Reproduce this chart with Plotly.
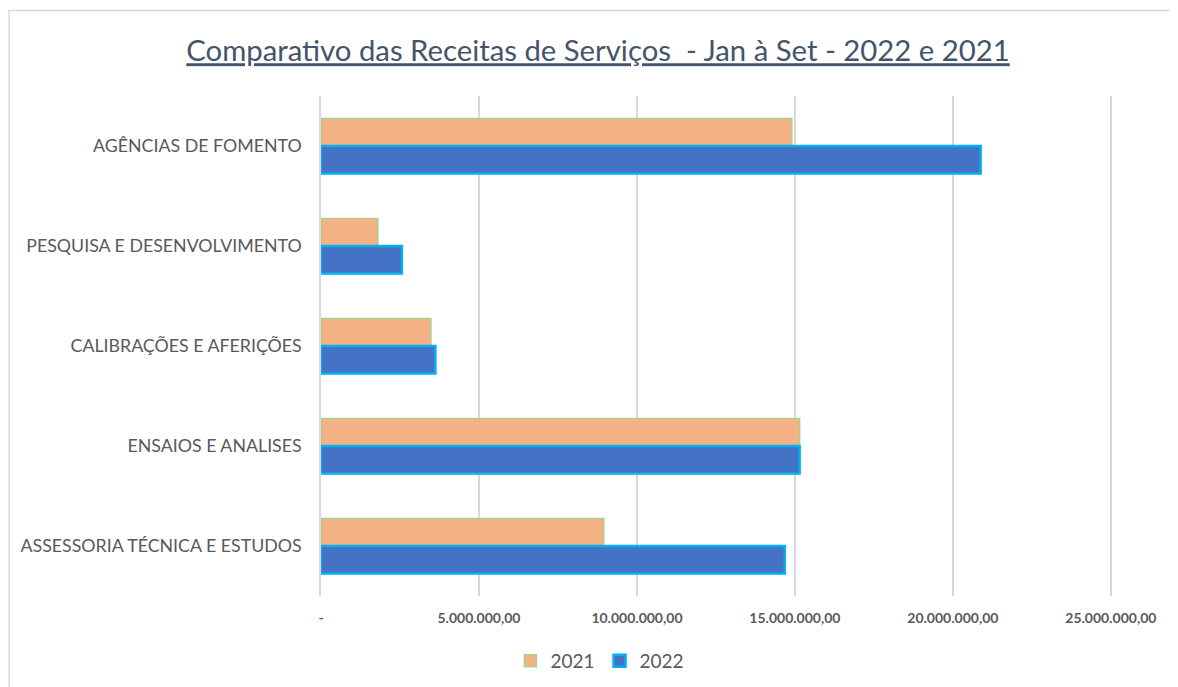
import plotly.graph_objects as go

categories = ["AGÊNCIAS DE FOMENTO", "PESQUISA E DESENVOLVIMENTO", "CALIBRAÇÕES E AFERIÇÕES",
              "ENSAIOS E ANALISES", "ASSESSORIA TÉCNICA E ESTUDOS"]
values_2021 = [14900000, 1800000, 3480000, 15150000, 8950000]
values_2022 = [20880000, 2560000, 3620000, 15150000, 14680000]
tick_vals = [0, 5000000, 10000000, 15000000, 20000000, 25000000]
tick_text = ["-", "5.000.000,00", "10.000.000,00", "15.000.000,00", "20.000.000,00", "25.000.000,00"]

FONT = "Lato"
GRAY = "#595959"

fig = go.Figure()
fig.add_trace(go.Bar(
    y=categories, x=values_2021, name="2021", orientation="h",
    marker=dict(color="#F4B183", line=dict(color="#A9D18E", width=1.5)),
))
fig.add_trace(go.Bar(
    y=categories, x=values_2022, name="2022", orientation="h",
    marker=dict(color="#4472C4", line=dict(color="#00B0F0", width=2.5)),
))

OFF = 8  # page body margin
W, H = 1170, 679
XMAX = 25100000
pw = 790 * XMAX / 25000000
ph = 500
L, T, B = 321 - OFF, 96 - OFF, 91
R = round(1178 - 321 - pw)

def px_x(px):
    return (px - 321) / pw

def px_y(py):
    return (596 - py) / ph

fig.update_layout(
    width=W, height=H,
    margin=dict(l=L, r=R, t=T, b=B, autoexpand=False),
    paper_bgcolor="white", plot_bgcolor="white",
    barmode="group", bargap=0.45, bargroupgap=0,
    title=dict(
        text="<u>Comparativo das Receitas de Serviços  - Jan à Set - 2022 e 2021</u>",
        x=(598 - OFF) / W, xref="container", xanchor="center",
        y=1 - (51 - OFF) / H, yref="container", yanchor="middle",
        font=dict(family=FONT, size=29.3, color="#44546A"),
    ),
    xaxis=dict(
        range=[0, XMAX], tickvals=tick_vals, ticktext=tick_text,
        showgrid=True, gridcolor="#D9D9D9", gridwidth=1.5,
        zeroline=False, showline=False, ticks="",
        tickfont=dict(family=FONT, size=14, color=GRAY, weight="bold"),
        ticklabelstandoff=12, fixedrange=True,
    ),
    yaxis=dict(
        autorange="reversed", showgrid=False, zeroline=False, ticks="",
        showline=True, linecolor="#D9D9D9", linewidth=1.5,
        tickfont=dict(family=FONT, size=17.8, color=GRAY),
        ticklabelstandoff=14,
    ),
    legend=dict(
        orientation="h", x=px_x(600), xanchor="center",
        y=px_y(661), yanchor="middle",
        font=dict(family=FONT, size=19, color=GRAY),
        itemwidth=30, traceorder="normal",
    ),
    showlegend=True,
    shapes=[dict(
        type="rect", xref="paper", yref="paper",
        x0=px_x(9), x1=px_x(1177), y0=px_y(700), y1=px_y(10.5),
        line=dict(color="#D9D9D9", width=1.5), fillcolor="rgba(0,0,0,0)",
        layer="below",
    )],
)

fig.write_html("out.html")
